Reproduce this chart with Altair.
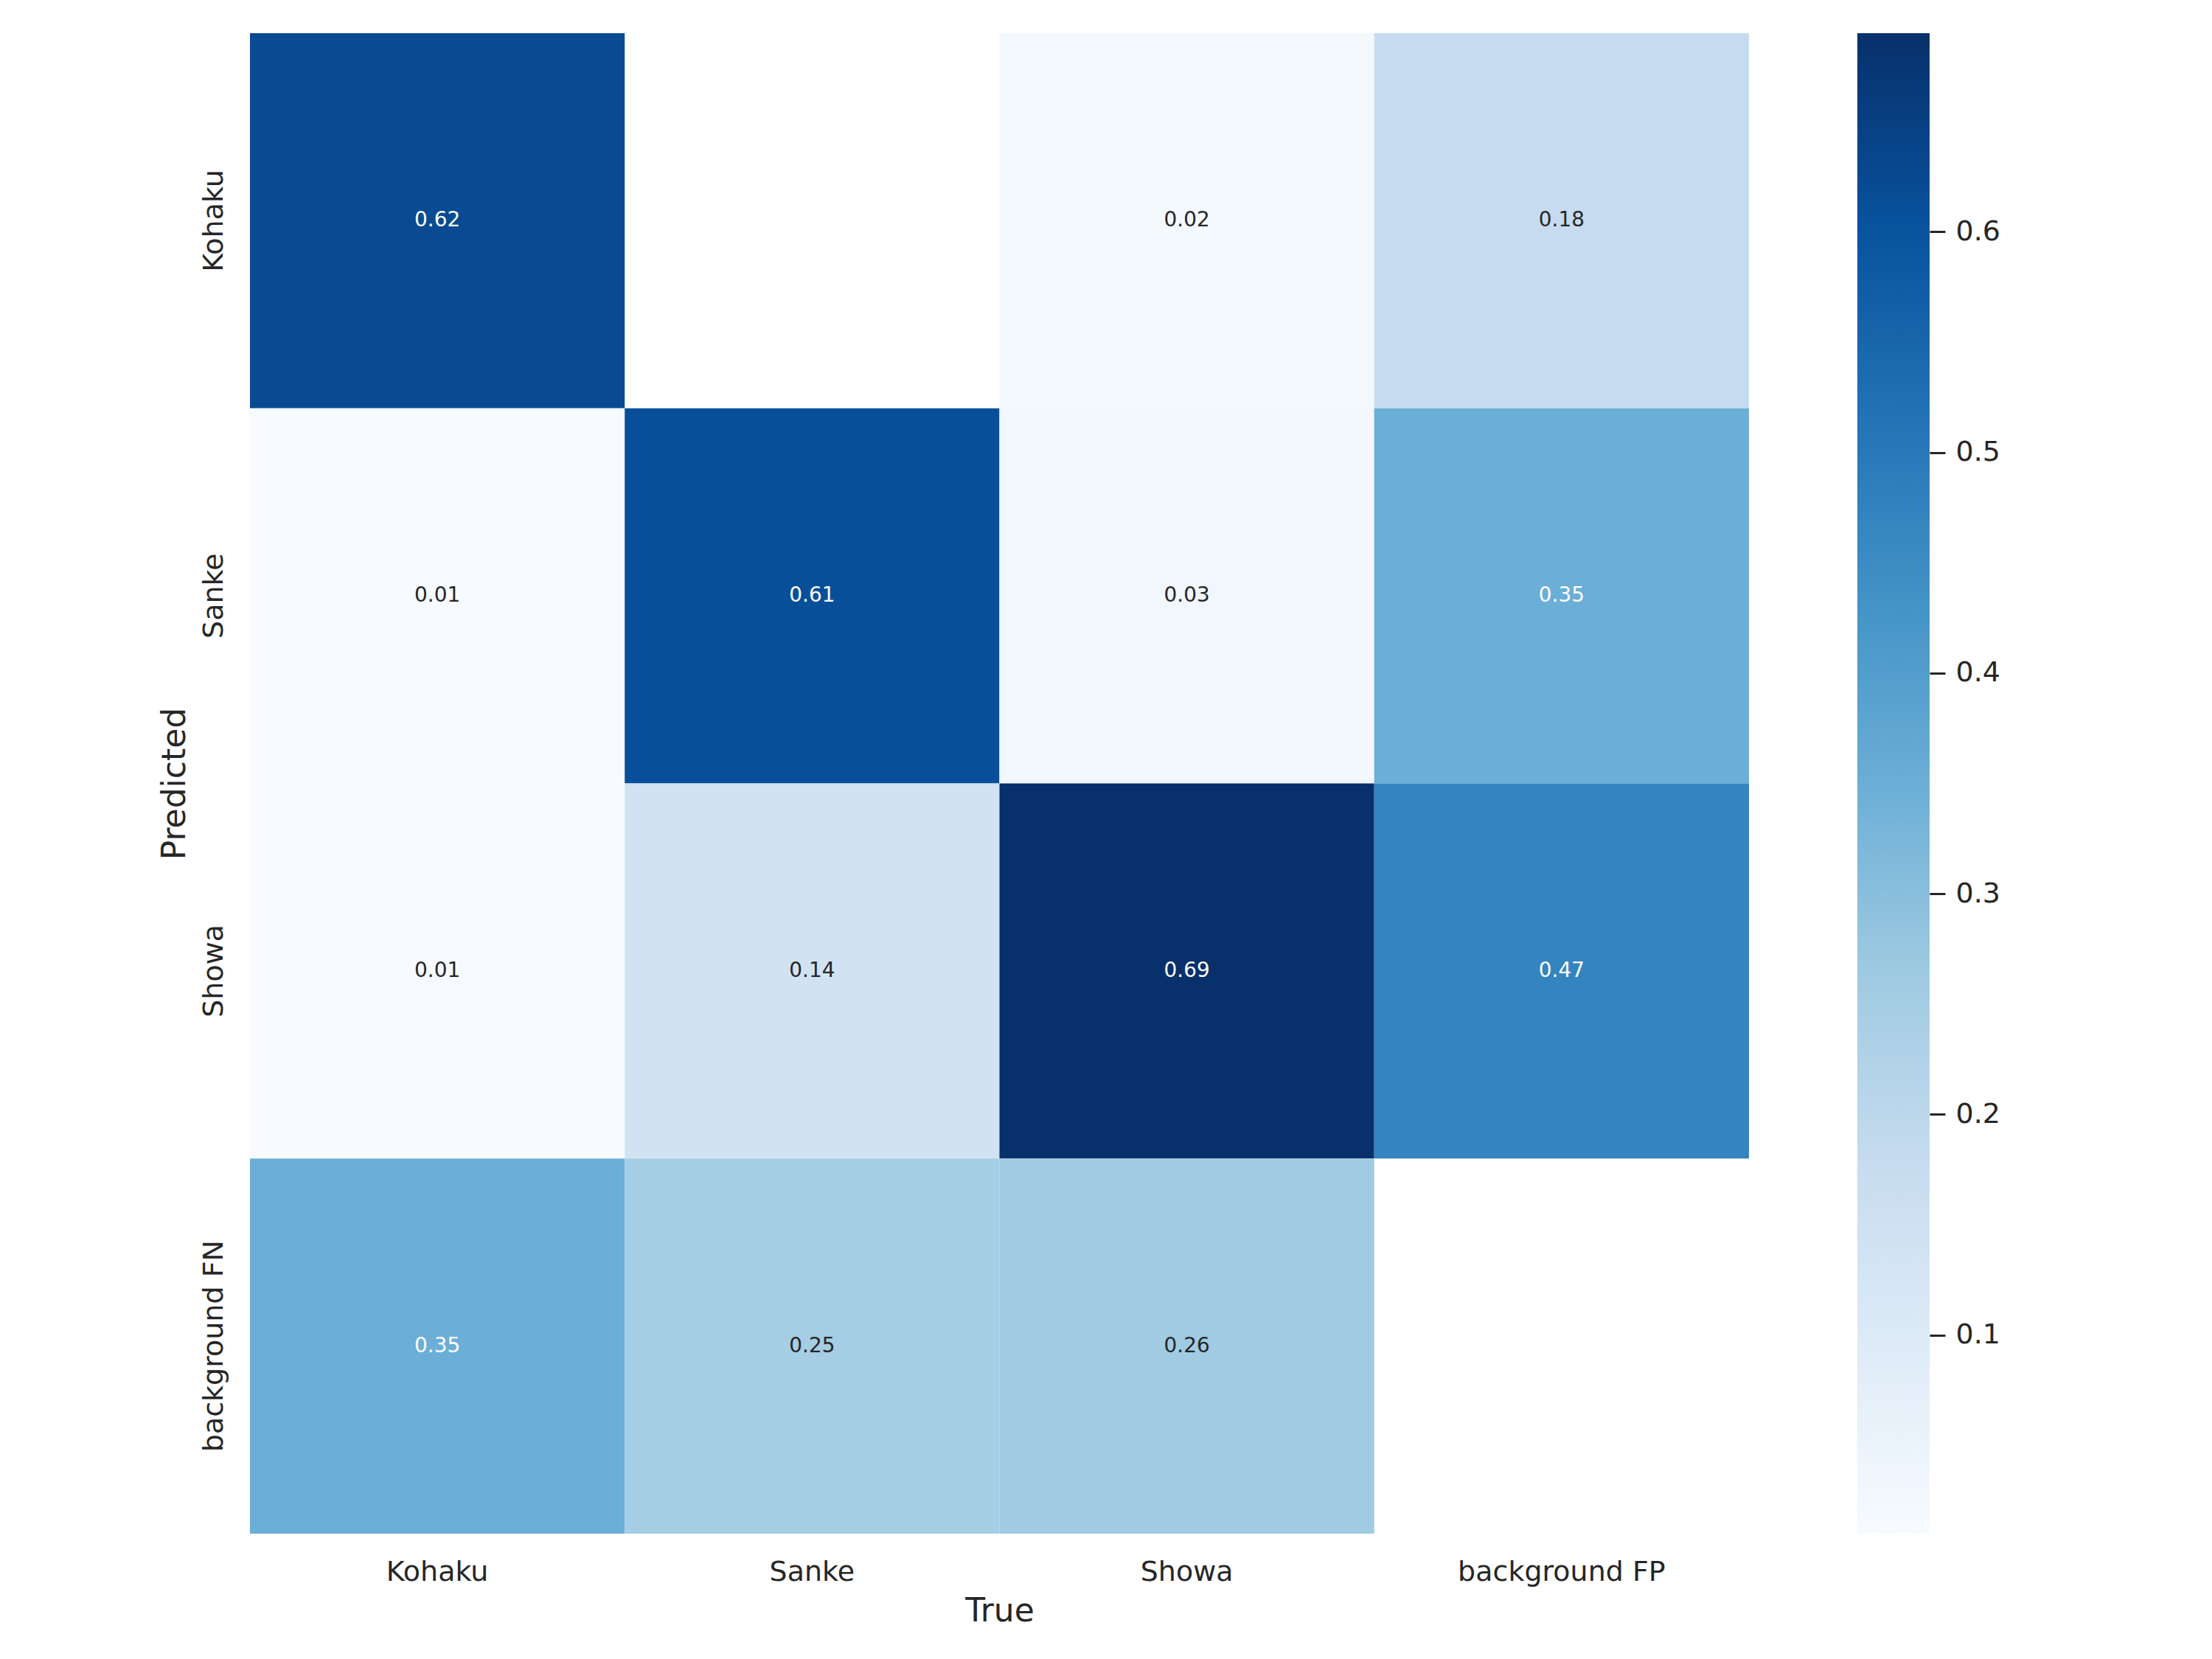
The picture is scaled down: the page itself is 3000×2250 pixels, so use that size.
import altair as alt
import pandas as pd

# ---- data ----
true_labels = ["Kohaku", "Sanke", "Showa", "background FP"]
pred_labels = ["Kohaku", "Sanke", "Showa", "background FN"]
row_kohaku = [0.62, None, 0.02, 0.18]
row_sanke = [0.01, 0.61, 0.03, 0.35]
row_showa = [0.01, 0.14, 0.69, 0.47]
row_bg_fn = [0.35, 0.25, 0.26, None]
cbar_ticks = [0.1, 0.2, 0.3, 0.4, 0.5, 0.6]

# matplotlib "Blues" colormap stops
blues = ["#f7fbff", "#deebf7", "#c6dbef", "#9ecae1", "#6baed6",
         "#4292c6", "#2171b5", "#08519c", "#08306b"]

rows = [row_kohaku, row_sanke, row_showa, row_bg_fn]
records = []
for p, vals in zip(pred_labels, rows):
    for t, v in zip(true_labels, vals):
        records.append({"pred": p, "true": t, "value": v})
df = pd.DataFrame(records)

TEXT = "#262626"
W, H = 2033, 2035

base = alt.Chart(df).transform_filter("isValid(datum.value)")

x_enc = alt.X(
    "true:N", sort=true_labels,
    scale=alt.Scale(domain=true_labels, paddingInner=0, paddingOuter=0),
    axis=alt.Axis(title="True", labelAngle=0, ticks=False, tickSize=0, domain=False,
                  labelPadding=63, labelBaseline="alphabetic", labelLimit=0,
                  titleX=W / 2, titleY=118, titleAlign="center",
                  titleBaseline="alphabetic"),
)
y_enc = alt.Y(
    "pred:N", sort=pred_labels,
    scale=alt.Scale(domain=pred_labels, paddingInner=0, paddingOuter=0),
    axis=alt.Axis(title="Predicted", labelAngle=270, labelAlign="center",
                  labelBaseline="alphabetic", ticks=False, tickSize=0, domain=False,
                  labelPadding=38, labelLimit=0,
                  titleAngle=270, titleX=-89, titleY=H / 2, titleAlign="center",
                  titleBaseline="alphabetic"),
)

rect = base.mark_rect().encode(
    x=x_enc, y=y_enc,
    color=alt.Color("value:Q",
                    scale=alt.Scale(range=blues, interpolate="rgb", zero=False, nice=False),
                    legend=None),
)
text = base.mark_text(fontSize=28, align="center", baseline="middle").encode(
    x=x_enc, y=y_enc,
    text=alt.Text("value:Q", format=".2f"),
    color=alt.condition("datum.value > 0.3", alt.value("white"), alt.value(TEXT)),
)
heat = alt.layer(rect, text).properties(width=W, height=H)

gradient = alt.LinearGradient(
    gradient="linear",
    stops=[alt.GradientStop(offset=i / (len(blues) - 1), color=c) for i, c in enumerate(blues)],
    x1=0, x2=0, y1=1, y2=0,
)
cbar = alt.Chart(df).transform_aggregate(
    vmin="min(value)", vmax="max(value)"
).mark_rect(fill=gradient).encode(
    y=alt.Y("vmin:Q", scale=alt.Scale(zero=False, nice=False),
            axis=alt.Axis(orient="right", title=None, values=cbar_ticks, format=".1f",
                          tickSize=21, tickWidth=3, tickColor=TEXT, labelPadding=14,
                          domain=False, grid=False, labelBaseline="middle")),
    y2="vmax:Q",
    x=alt.value(0),
    x2=alt.value("width"),
).properties(width=98, height=H)

chart = alt.hconcat(heat, cbar, spacing=147).properties(
    padding={"left": 207, "top": 37, "right": 40, "bottom": 30},
    background="white",
).configure(
    font="DejaVu Sans",
).configure_view(
    stroke=None,
).configure_axis(
    labelFont="DejaVu Sans", titleFont="DejaVu Sans",
    labelFontSize=38, titleFontSize=44, titleFontWeight="normal",
    labelColor=TEXT, titleColor=TEXT,
)

chart.save("out.html", embed_options={"renderer": "svg", "actions": False})
